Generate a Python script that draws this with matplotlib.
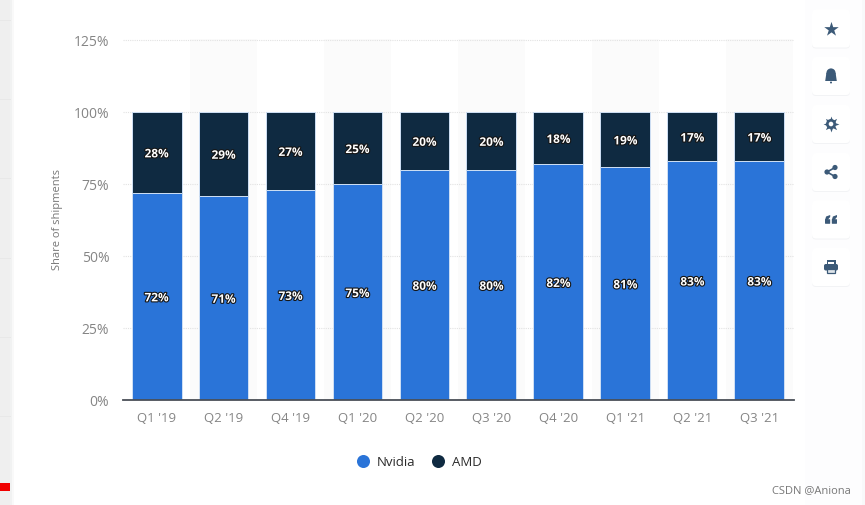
import matplotlib
matplotlib.use("Agg")
import matplotlib.pyplot as plt
import matplotlib.patheffects as pe
from matplotlib.patches import FancyBboxPatch, Circle, Rectangle, Polygon

plt.rcParams["font.family"] = ["Open Sans", "DejaVu Sans"]

quarters = ["Q1 '19", "Q2 '19", "Q4 '19", "Q1 '20", "Q2 '20", "Q3 '20", "Q4 '20", "Q1 '21", "Q2 '21", "Q3 '21"]
nvidia = [72, 71, 73, 75, 80, 80, 82, 81, 83, 83]
amd = [28, 29, 27, 25, 20, 20, 18, 19, 17, 17]
y_ticks = [0, 25, 50, 75, 100, 125]

W, H = 865, 505
BLUE = "#2a74d8"
DARK = "#0f2a41"
GREY = "#858585"
ICON = "#3c5a78"

fig = plt.figure(figsize=(W / 100, H / 100), dpi=100, facecolor="white")

# page behind the chart, in pixel coordinates
bg = fig.add_axes([0, 0, 1, 1], zorder=0)
bg.set_xlim(0, W)
bg.set_ylim(H, 0)
bg.axis("off")
bg.add_patch(Rectangle((0, 0), 10, H, fc="#efefef", ec="none"))
bg.add_patch(Rectangle((10, 0), 2, H, fc="#f1f2f2", ec="none"))
bg.add_patch(Rectangle((12, 0), 2, H, fc="#f9f9f9", ec="none"))
for ly in [20, 99, 178, 258, 337, 416]:
    bg.plot([0, 10], [ly, ly], color="#e8e8e8", lw=0.7)
bg.add_patch(Rectangle((0, 483), 10, 8, fc="#f00000", ec="none"))
bg.add_patch(Rectangle((805, 0), 57, H, fc="#fdfdfe", ec="none"))
bg.add_patch(Rectangle((862, 0), 3, H, fc="#f8f9fa", ec="none"))

ax = fig.add_axes([123.1 / W, 1 - 400 / H, 671 / W, 361.4 / H], zorder=1)
ax.patch.set_alpha(0)
x = range(len(quarters))

# faint alternating columns
for i in x:
    if i % 2 == 1:
        ax.axvspan(i - 0.5, i + 0.5, color="#fbfbfb", lw=0, zorder=0)

ax.bar(x, nvidia, width=0.745, color=BLUE, edgecolor="#cfe0f5", linewidth=0.7, zorder=2)
ax.bar(x, amd, width=0.745, bottom=nvidia, color=DARK, edgecolor="#cfe0f5", linewidth=0.7, zorder=2)

stroke = [pe.withStroke(linewidth=1.6, foreground="#151515")]
for i in x:
    ax.text(i, nvidia[i] / 2, f"{nvidia[i]}%", color="white", ha="center", va="center_baseline",
            fontsize=8.5, fontweight="bold", path_effects=stroke, zorder=3)
    ax.text(i, nvidia[i] + amd[i] / 2, f"{amd[i]}%", color="white", ha="center", va="center_baseline",
            fontsize=8.5, fontweight="bold", path_effects=stroke, zorder=3)

ax.set_xlim(-0.5, 9.52)
ax.set_ylim(0, 125.5)
ax.set_xticks(list(x))
ax.set_xticklabels(quarters)
ax.set_yticks(y_ticks)
ax.set_yticklabels([f"{v}%" for v in y_ticks])
ax.tick_params(axis="x", length=0, pad=9, labelsize=9.5, labelcolor=GREY)
ax.tick_params(axis="y", length=0, pad=10, labelsize=10, labelcolor=GREY)
ax.grid(axis="y", color="#e2e2e2", lw=0.8, ls=(0, (1, 1)), zorder=1)
ax.set_axisbelow(True)
for s in ["top", "left", "right"]:
    ax.spines[s].set_visible(False)
ax.spines["bottom"].set_color("#4a4f57")
ax.spines["bottom"].set_linewidth(1.3)
ax.spines["bottom"].set_zorder(4)

fig.text(58 / W, 1 - 219.5 / H, "Share of shipments", rotation=90, ha="center", va="center",
         fontsize=8, color="#777777", zorder=3)

# overlay: legend, side buttons, watermark
top = fig.add_axes([0, 0, 1, 1], zorder=2)
top.set_xlim(0, W)
top.set_ylim(H, 0)
top.axis("off")
top.patch.set_alpha(0)

top.scatter([362.5], [460.5], s=88, color=BLUE, lw=0)
top.text(377, 462, "Nvidia", fontsize=9.5, color="#2b2b2b", va="center", ha="left")
top.scatter([438], [460.5], s=88, color=DARK, lw=0)
top.text(452, 462, "AMD", fontsize=9.5, color="#2b2b2b", va="center", ha="left")
top.text(851, 491, "CSDN @Aniona", fontsize=8, color="#777777", va="center", ha="right")

button_y = [28.5, 76, 124, 172, 219.5, 267]
for cy in button_y:
    top.add_patch(FancyBboxPatch((816, cy - 14), 30, 30, boxstyle="round,pad=4,rounding_size=4",
                                 fc="#f2f3f5", ec="none", zorder=2))
    top.add_patch(FancyBboxPatch((816, cy - 15), 30, 30, boxstyle="round,pad=4,rounding_size=4",
                                 fc="white", ec="none", zorder=3))

cx = 831
# star
top.scatter([cx], [28.5], marker="*", s=120, color=ICON, lw=0, zorder=5)
# bell
top.add_patch(Circle((cx, 73), 4.6, fc=ICON, ec="none", zorder=5))
top.add_patch(Polygon([(cx - 4.6, 73), (cx + 4.6, 73), (cx + 5.8, 81), (cx - 5.8, 81)],
                      fc=ICON, ec="none", zorder=5))
top.add_patch(Circle((cx, 82.5), 1, fc=ICON, ec="none", zorder=5))
# gear
top.scatter([cx], [124], marker=(8, 1, 0), s=130, color=ICON, lw=0, zorder=5)
top.add_patch(Circle((cx, 124), 5, fc=ICON, ec="none", zorder=5))
top.add_patch(Circle((cx, 124), 2.3, fc="white", ec="none", zorder=6))
# share
top.plot([cx + 4, cx - 4, cx + 4], [167.5, 172, 176.5], color=ICON, lw=1.2, zorder=5)
for px, py in [(cx + 4, 167.5), (cx - 4, 172), (cx + 4, 176.5)]:
    top.add_patch(Circle((px, py), 2.6, fc=ICON, ec="none", zorder=6))
# quotes
for qx in [cx - 3.4, cx + 3.4]:
    top.add_patch(FancyBboxPatch((qx - 2.3, 219.5), 4.6, 4, boxstyle="round,pad=0.3,rounding_size=0.6",
                                 fc=ICON, ec="none", zorder=5))
    top.add_patch(Polygon([(qx - 2.6, 220), (qx - 1.5, 216.5), (qx + 2.6, 215), (qx + 2.6, 217), (qx, 220)],
                          fc=ICON, ec="none", zorder=5))
# printer
top.add_patch(Rectangle((cx - 4.5, 260), 9, 5, fc=ICON, ec="none", zorder=5))
top.add_patch(Rectangle((cx - 3, 261.5), 6, 2.5, fc="white", ec="none", zorder=6))
top.add_patch(FancyBboxPatch((cx - 7, 264), 14, 6.5, boxstyle="round,pad=0,rounding_size=1.8",
                             fc=ICON, ec="none", zorder=5))
top.add_patch(Rectangle((cx - 4, 268.5), 8, 4.5, fc="#dfe5ea", ec=ICON, lw=0.9, zorder=6))

fig.savefig("out.png", dpi=100, facecolor="white")
